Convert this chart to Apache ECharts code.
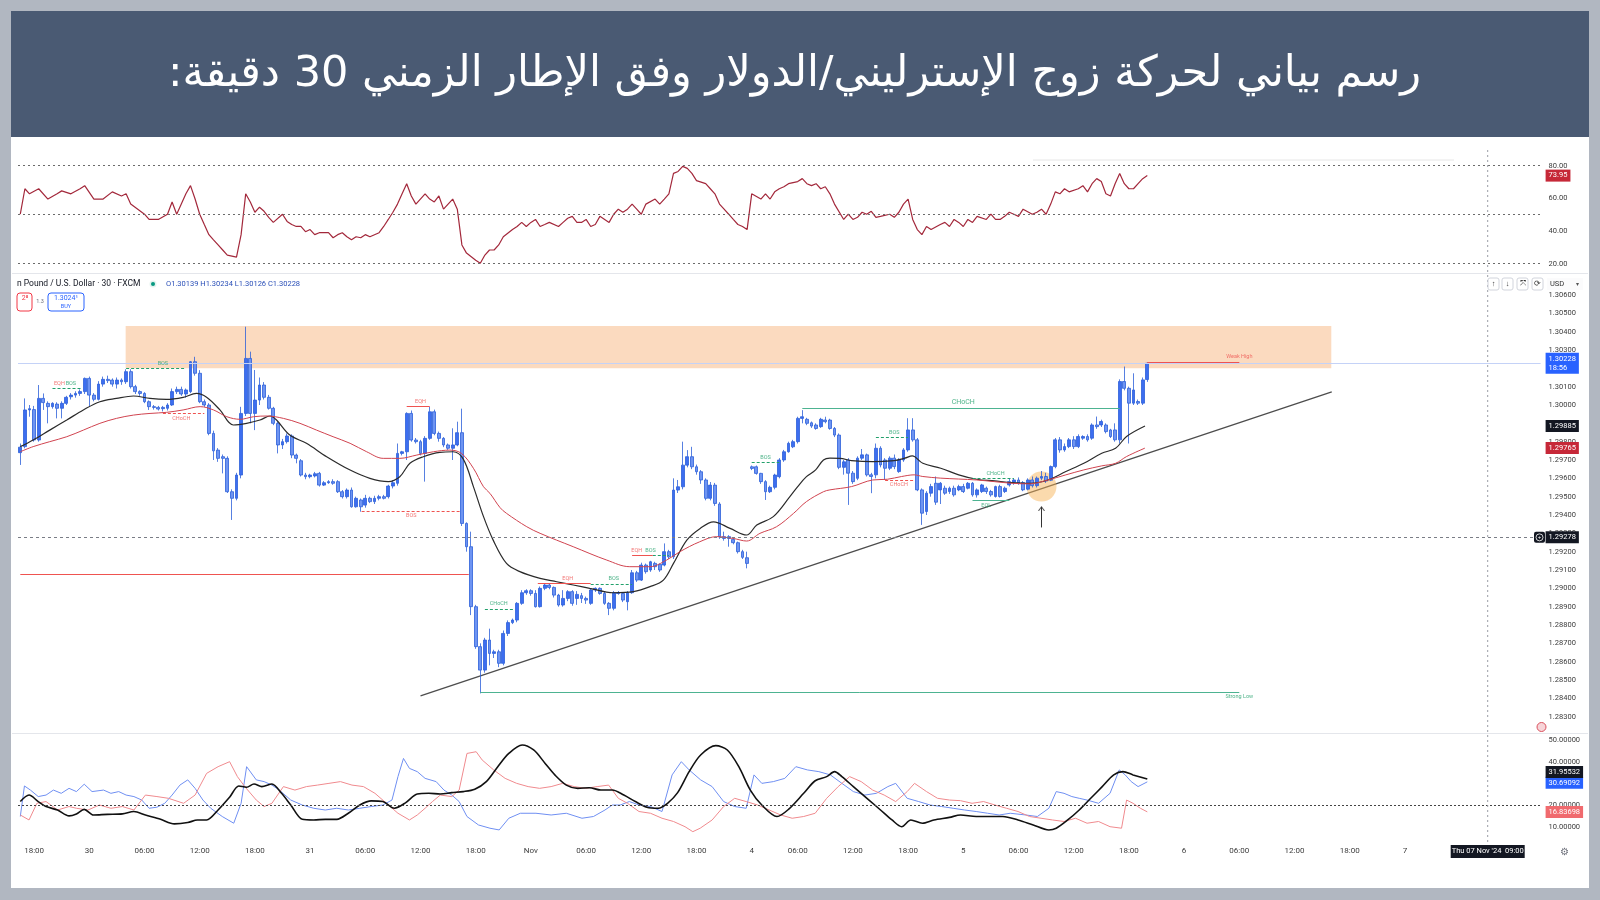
<!DOCTYPE html>
<html><head><meta charset="utf-8">
<script src="https://cdn.jsdelivr.net/npm/echarts@6/dist/echarts.min.js"></script>
<style>
html,body{margin:0;padding:0;background:#b1b7c1;width:1600px;height:900px;overflow:hidden;}
#banner{position:absolute;left:11px;top:11px;width:1578px;height:126px;background:#4a5a73;}
#panel{position:absolute;left:11px;top:137px;width:1578px;height:751px;background:#ffffff;}
#c{position:absolute;left:0;top:0;width:1600px;height:900px;}
</style></head>
<body><div id="banner"></div><div id="panel"></div><div id="c"></div>
<script>
// ---------- DATA ----------
const titleText = 'رسم بياني لحركة زوج الإسترليني/الدولار وفق الإطار الزمني 30 دقيقة:';
const symbolText = 'n Pound / U.S. Dollar · 30 · FXCM';
const ohlcText = 'O1.30139 H1.30234 L1.30126 C1.30228';
const timeTicks = [[3,'18:00'],[15,'30'],[27,'06:00'],[39,'12:00'],[51,'18:00'],[63,'31'],[75,'06:00'],[87,'12:00'],[99,'18:00'],[111,'Nov'],[123,'06:00'],[135,'12:00'],[147,'18:00'],[159,'4'],[169,'06:00'],[181,'12:00'],[193,'18:00'],[205,'5'],[217,'06:00'],[229,'12:00'],[241,'18:00'],[253,'6'],[265,'06:00'],[277,'12:00'],[289,'18:00'],[301,'7']];
const slotCount = 331;
// candles: [open, close, low, high]
const candles = [
[1.29740,1.29770,1.29673,1.29790],[1.29773,1.29973,1.29764,1.30036],[1.29973,1.29980,1.29936,1.30000],[1.29975,1.29809,1.29800,1.29995],[1.29809,1.30036,1.29800,1.30109],
[1.30036,1.30013,1.29973,1.30063],[1.30009,1.29991,1.29900,1.30020],[1.29991,1.30009,1.29980,1.30015],[1.30005,1.29982,1.29927,1.30015],[1.29982,1.30009,1.29927,1.30020],
[1.30009,1.30042,1.30000,1.30050],[1.30045,1.30054,1.30030,1.30065],[1.30054,1.30063,1.30040,1.30075],[1.30063,1.30073,1.30050,1.30085],[1.30073,1.30145,1.30060,1.30150],
[1.30145,1.30054,1.29991,1.30155],[1.30054,1.30031,1.30020,1.30065],[1.30031,1.30114,1.30025,1.30130],[1.30114,1.30140,1.30100,1.30155],[1.30140,1.30133,1.30120,1.30160],
[1.30136,1.30114,1.30100,1.30145],[1.30114,1.30136,1.30090,1.30150],[1.30136,1.30127,1.30110,1.30145],[1.30127,1.30182,1.30115,1.30195],[1.30182,1.30100,1.30090,1.30195],
[1.30100,1.30073,1.30060,1.30110],[1.30073,1.30063,1.30050,1.30080],[1.30063,1.30018,1.30010,1.30070],[1.30018,1.29991,1.29973,1.30025],[1.29991,1.29987,1.29975,1.30000],
[1.29987,1.29978,1.29970,1.29995],[1.29980,1.29987,1.29965,1.29995],[1.29982,1.30000,1.29970,1.30010],[1.30000,1.30073,1.29995,1.30090],[1.30073,1.30085,1.30060,1.30100],
[1.30085,1.30060,1.30050,1.30100],[1.30060,1.30082,1.30040,1.30090],[1.30073,1.30236,1.30065,1.30240],[1.30236,1.30173,1.30160,1.30263],[1.30173,1.30018,1.30010,1.30190],
[1.30018,1.30000,1.29990,1.30030],[1.30000,1.29845,1.29835,1.30010],[1.29845,1.29750,1.29700,1.29860],[1.29754,1.29709,1.29690,1.29765],[1.29718,1.29709,1.29627,1.29730],
[1.29709,1.29527,1.29520,1.29720],[1.29527,1.29491,1.29373,1.29540],[1.29491,1.29618,1.29480,1.29630],[1.29618,1.29954,1.29600,1.29990],[1.29954,1.30254,1.29940,1.30427],
[1.30254,1.29954,1.29900,1.30291],[1.29954,1.30027,1.29863,1.30191],[1.30027,1.30109,1.30000,1.30150],[1.30109,1.30042,1.30030,1.30125],[1.30042,1.29982,1.29975,1.30055],
[1.29982,1.29900,1.29890,1.29990],[1.29900,1.29782,1.29736,1.29910],[1.29782,1.29800,1.29760,1.29815],[1.29800,1.29831,1.29790,1.29845],[1.29831,1.29727,1.29710,1.29840],
[1.29727,1.29709,1.29682,1.29735],[1.29696,1.29618,1.29610,1.29705],[1.29618,1.29609,1.29595,1.29630],[1.29609,1.29618,1.29600,1.29625],[1.29613,1.29625,1.29605,1.29635],
[1.29627,1.29563,1.29555,1.29635],[1.29563,1.29576,1.29558,1.29585],[1.29576,1.29582,1.29570,1.29590],[1.29582,1.29573,1.29565,1.29595],[1.29582,1.29527,1.29520,1.29590],
[1.29527,1.29500,1.29490,1.29536],[1.29500,1.29536,1.29490,1.29545],[1.29536,1.29445,1.29440,1.29550],[1.29445,1.29491,1.29440,1.29500],[1.29482,1.29445,1.29418,1.29490],
[1.29454,1.29491,1.29440,1.29510],[1.29491,1.29473,1.29465,1.29500],[1.29473,1.29491,1.29460,1.29505],[1.29491,1.29500,1.29480,1.29510],[1.29500,1.29491,1.29485,1.29510],
[1.29500,1.29558,1.29490,1.29565],[1.29558,1.29576,1.29545,1.29590],[1.29573,1.29736,1.29560,1.29790],[1.29736,1.29745,1.29725,1.29750],[1.29745,1.29954,1.29700,1.29960],
[1.29954,1.29809,1.29800,1.29970],[1.29809,1.29800,1.29790,1.29820],[1.29800,1.29736,1.29725,1.29810],[1.29736,1.29818,1.29582,1.29830],[1.29818,1.29963,1.29810,1.29990],
[1.29963,1.29845,1.29835,1.29975],[1.29845,1.29818,1.29800,1.29855],[1.29818,1.29782,1.29770,1.29825],[1.29782,1.29764,1.29755,1.29790],[1.29764,1.29782,1.29700,1.29873],
[1.29782,1.29849,1.29775,1.29909],[1.29849,1.29354,1.29340,1.29980],[1.29354,1.29227,1.29200,1.29360],[1.29227,1.28900,1.28854,1.29309],[1.28900,1.28682,1.28670,1.28910],
[1.28682,1.28554,1.28427,1.28700],[1.28554,1.28718,1.28540,1.28730],[1.28718,1.28645,1.28580,1.28780],[1.28645,1.28654,1.28620,1.28665],[1.28654,1.28591,1.28570,1.28665],
[1.28591,1.28754,1.28580,1.28770],[1.28754,1.28813,1.28740,1.28825],[1.28813,1.28827,1.28805,1.28835],[1.28827,1.28918,1.28815,1.28925],[1.28918,1.28976,1.28910,1.28990],
[1.28976,1.28987,1.28965,1.28995],[1.28987,1.28972,1.28960,1.28995],[1.28972,1.28900,1.28895,1.28990],[1.28900,1.29000,1.28895,1.29010],[1.29000,1.29018,1.28990,1.29025],
[1.29018,1.29005,1.28995,1.29025],[1.29005,1.28963,1.28950,1.29010],[1.28963,1.28909,1.28900,1.28970],[1.28909,1.28945,1.28900,1.28990],[1.28945,1.28982,1.28930,1.28990],
[1.28982,1.28918,1.28905,1.28990],[1.28945,1.28967,1.28910,1.28985],[1.28960,1.28945,1.28920,1.28975],[1.28945,1.28936,1.28915,1.28955],[1.28918,1.28991,1.28910,1.29000],
[1.28991,1.29000,1.28980,1.29005],[1.29000,1.28972,1.28965,1.29005],[1.28972,1.28918,1.28910,1.28980],[1.28918,1.28891,1.28854,1.28925],[1.28891,1.28976,1.28880,1.28985],
[1.28976,1.28972,1.28965,1.28985],[1.28972,1.28936,1.28925,1.28980],[1.28927,1.28976,1.28880,1.28985],[1.28976,1.29085,1.28970,1.29100],[1.29085,1.29045,1.29035,1.29095],
[1.29045,1.29127,1.29040,1.29140],[1.29127,1.29091,1.29080,1.29135],[1.29100,1.29145,1.29090,1.29150],[1.29136,1.29118,1.29100,1.29145],[1.29131,1.29100,1.29090,1.29135],
[1.29127,1.29200,1.29120,1.29245],[1.29200,1.29172,1.29160,1.29210],[1.29172,1.29536,1.29160,1.29600],[1.29536,1.29554,1.29520,1.29591],[1.29554,1.29672,1.29540,1.29800],
[1.29672,1.29718,1.29660,1.29754],[1.29718,1.29663,1.29650,1.29772],[1.29663,1.29636,1.29620,1.29675],[1.29636,1.29591,1.29570,1.29645],[1.29591,1.29491,1.29480,1.29600],
[1.29491,1.29563,1.29480,1.29580],[1.29563,1.29463,1.29450,1.29575],[1.29460,1.29282,1.29270,1.29470],[1.29282,1.29272,1.29260,1.29309],[1.29272,1.29282,1.29227,1.29290],
[1.29267,1.29249,1.29240,1.29275],[1.29249,1.29200,1.29190,1.29255],[1.29200,1.29169,1.29160,1.29210],[1.29167,1.29136,1.29109,1.29200],[1.29663,1.29654,1.29645,1.29670],
[1.29663,1.29627,1.29620,1.29670],[1.29627,1.29582,1.29570,1.29630],[1.29582,1.29527,1.29482,1.29590],[1.29527,1.29551,1.29520,1.29560],[1.29551,1.29618,1.29540,1.29625],
[1.29609,1.29700,1.29600,1.29710],[1.29700,1.29745,1.29690,1.29755],[1.29745,1.29791,1.29740,1.29800],[1.29772,1.29800,1.29765,1.29810],[1.29800,1.29927,1.29790,1.29936],
[1.29927,1.29936,1.29900,1.29972],[1.29922,1.29900,1.29890,1.29930],[1.29903,1.29885,1.29875,1.29910],[1.29891,1.29872,1.29865,1.29900],[1.29882,1.29922,1.29875,1.29930],
[1.29918,1.29909,1.29900,1.29936],[1.29918,1.29872,1.29865,1.29925],[1.29872,1.29836,1.29825,1.29880],[1.29836,1.29660,1.29650,1.29845],[1.29660,1.29690,1.29620,1.29700],
[1.29700,1.29628,1.29455,1.29710],[1.29628,1.29582,1.29570,1.29640],[1.29600,1.29710,1.29590,1.29720],[1.29710,1.29728,1.29700,1.29760],[1.29728,1.29619,1.29610,1.29735],
[1.29619,1.29610,1.29519,1.29630],[1.29619,1.29764,1.29600,1.29790],[1.29764,1.29673,1.29660,1.29775],[1.29700,1.29655,1.29591,1.29710],[1.29655,1.29710,1.29645,1.29720],
[1.29710,1.29664,1.29650,1.29730],[1.29637,1.29700,1.29630,1.29710],[1.29700,1.29755,1.29690,1.29765],[1.29755,1.29864,1.29745,1.29928],[1.29864,1.29810,1.29800,1.29928],
[1.29810,1.29537,1.29530,1.29820],[1.29537,1.29410,1.29346,1.29545],[1.29419,1.29519,1.29400,1.29530],[1.29519,1.29555,1.29500,1.29570],[1.29573,1.29470,1.29455,1.29610],
[1.29537,1.29573,1.29460,1.29580],[1.29546,1.29519,1.29510,1.29560],[1.29528,1.29546,1.29515,1.29555],[1.29546,1.29510,1.29500,1.29560],[1.29537,1.29555,1.29530,1.29565],
[1.29555,1.29528,1.29520,1.29570],[1.29546,1.29573,1.29540,1.29580],[1.29573,1.29510,1.29500,1.29580],[1.29510,1.29537,1.29495,1.29545],[1.29528,1.29564,1.29520,1.29570],
[1.29546,1.29528,1.29515,1.29555],[1.29528,1.29510,1.29500,1.29537],[1.29501,1.29555,1.29495,1.29560],[1.29555,1.29501,1.29495,1.29565],[1.29528,1.29546,1.29520,1.29555],
[1.29564,1.29582,1.29555,1.29600],[1.29580,1.29591,1.29565,1.29600],[1.29591,1.29575,1.29565,1.29605],[1.29577,1.29537,1.29530,1.29585],[1.29541,1.29591,1.29535,1.29600],
[1.29591,1.29560,1.29550,1.29610],[1.29560,1.29601,1.29550,1.29610],[1.29601,1.29610,1.29590,1.29640],[1.29610,1.29585,1.29575,1.29630],[1.29590,1.29664,1.29585,1.29670],
[1.29664,1.29810,1.29655,1.29820],[1.29810,1.29755,1.29740,1.29825],[1.29755,1.29773,1.29745,1.29790],[1.29773,1.29810,1.29765,1.29820],[1.29810,1.29773,1.29760,1.29830],
[1.29773,1.29828,1.29765,1.29840],[1.29819,1.29828,1.29810,1.29835],[1.29828,1.29810,1.29800,1.29840],[1.29819,1.29891,1.29810,1.29900],[1.29891,1.29882,1.29870,1.29937],
[1.29891,1.29910,1.29880,1.29920],[1.29891,1.29855,1.29845,1.29900],[1.29864,1.29828,1.29820,1.29870],[1.29864,1.29810,1.29800,1.29900],[1.29810,1.30128,1.29790,1.30140],
[1.30128,1.30091,1.30080,1.30210],[1.30091,1.30010,1.29790,1.30100],[1.30010,1.30082,1.30000,1.30173],[1.30019,1.30010,1.30000,1.30030],[1.30010,1.30137,1.30000,1.30150],
[1.30139,1.30228,1.30126,1.30234]
];
// moving averages: [bar index, price]
const maFast = [[0,1.29773],[2.8,1.29809],[6.4,1.29863],[10.1,1.29918],[13.7,1.29973],[17.3,1.30018],[20.9,1.30036],[24.6,1.30049],[28.2,1.30036],[31.8,1.30031],[35.4,1.30042],[38.3,1.30063],[40.5,1.30042],[43.4,1.29973],[46.3,1.29891],[49.2,1.29900],[52.1,1.29918],[54.3,1.29940],[55.7,1.29918],[58.6,1.29836],[62.2,1.29791],[66.6,1.29718],[71.7,1.29645],[76,1.29600],[80,1.29582],[82.5,1.29609],[84.7,1.29682],[87.6,1.29718],[91.2,1.29742],[94.1,1.29745],[96.3,1.29705],[98.5,1.29555],[100.7,1.29391],[102.8,1.29263],[105.7,1.29136],[108.6,1.29091],[113,1.29054],[116.6,1.29036],[120.2,1.29018],[123.8,1.29000],[128.9,1.28976],[133.3,1.28982],[136.9,1.29009],[139.8,1.29045],[142,1.29136],[144.9,1.29263],[147.8,1.29327],[150.7,1.29363],[154.3,1.29327],[157.9,1.29291],[160.1,1.29345],[163.7,1.29391],[167.3,1.29500],[169,1.29555],[170.9,1.29609],[172.9,1.29646],[174.6,1.29700],[176,1.29710],[178.2,1.29709],[180.7,1.29697],[185.3,1.29691],[190,1.29697],[192.3,1.29710],[193.9,1.29722],[196.2,1.29682],[200.1,1.29655],[204,1.29619],[207.9,1.29595],[211.8,1.29586],[215.6,1.29577],[219.5,1.29573],[223.4,1.29591],[227.3,1.29637],[231.2,1.29682],[235.1,1.29737],[238.1,1.29764],[240.5,1.29828],[244.5,1.29885]];
const maSlow = [[0,1.29745],[2.8,1.29773],[6.4,1.29800],[10.1,1.29827],[13.7,1.29863],[17.3,1.29900],[20.9,1.29927],[24.6,1.29945],[28.2,1.29954],[31.8,1.29960],[35.4,1.29973],[39.1,1.29991],[42,1.29973],[44.9,1.29936],[47.8,1.29922],[50.7,1.29936],[53.6,1.29940],[57.2,1.29927],[60.8,1.29900],[64.4,1.29863],[68,1.29827],[71.7,1.29791],[75.3,1.29745],[78.9,1.29709],[82.5,1.29709],[86.2,1.29727],[89.8,1.29745],[93.4,1.29754],[95.9,1.29736],[98.5,1.29655],[100.7,1.29554],[102.1,1.29518],[104.3,1.29440],[105.7,1.29409],[110.1,1.29336],[113,1.29300],[120.2,1.29227],[127.5,1.29154],[132.5,1.29118],[136.9,1.29118],[140.5,1.29154],[143.4,1.29200],[147.7,1.29254],[151.4,1.29282],[155,1.29272],[157.9,1.29258],[160.8,1.29300],[164.4,1.29336],[168.1,1.29409],[170.9,1.29473],[174.6,1.29527],[176,1.29537],[180.7,1.29555],[185.3,1.29591],[188.5,1.29595],[191.6,1.29610],[194.3,1.29619],[196.2,1.29610],[200.1,1.29601],[207.9,1.29591],[215.6,1.29573],[219.5,1.29570],[223.4,1.29591],[227.3,1.29619],[231.2,1.29646],[235.1,1.29668],[238.1,1.29682],[240.5,1.29719],[244.5,1.29765]];
const trendPts = [[87,1.28413],[285.1,1.30072]];
const supplyZone = [22.9, 285, 1.30200, 1.30431];
const rsi = [[0,50.3],[1,65.9],[2,62.8],[4,65.9],[6,59.6],[8,62.8],[9,64.6],[11,62.8],[13,65.9],[14,67.8],[16,59.6],[18,59.6],[20,64.0],[22,61.5],[23,62.8],[24,56.5],[27,50.3],[28,47.1],[30,47.1],[32,50.3],[33,57.8],[34,50.3],[35,56.5],[36,62.8],[37,67.8],[38,59.6],[39,50.3],[40,44.0],[41,37.8],[42,34.6],[43,31.5],[44,28.4],[45,25.3],[47,24.0],[48,37.8],[49,62.8],[50,57.8],[51,51.5],[52,54.6],[53,52.1],[54,48.4],[55,45.3],[57,50.3],[58,45.9],[59,44.0],[60,42.8],[61,42.8],[62,39.6],[63,40.9],[64,37.8],[65,39.0],[67,39.0],[68,35.9],[69,37.8],[70,39.0],[71,36.5],[72,34.6],[73,36.5],[74,35.9],[75,37.8],[76,36.5],[78,39.0],[79,42.8],[80,47.1],[81,51.5],[82,56.5],[83,62.8],[84,69.0],[85,61.5],[86,56.5],[88,62.8],[89,59.6],[90,57.8],[91,61.5],[92,53.4],[94,59.6],[95,53.4],[96,31.5],[97,26.5],[99,22.1],[100,20.3],[101,25.3],[102,28.4],[103,28.4],[104,31.5],[105,36.5],[107,40.9],[108,42.8],[109,45.3],[110,42.8],[111,45.3],[112,47.1],[113,42.8],[114,44.0],[115,45.3],[117,42.8],[118,45.3],[119,47.8],[120,49.0],[121,45.3],[122,45.3],[123,47.1],[124,42.8],[125,44.0],[126,49.0],[128,45.3],[129,50.3],[130,53.4],[131,51.5],[132,53.4],[133,56.5],[134,53.4],[135,50.3],[136,56.5],[138,59.6],[139,56.5],[140,59.6],[141,62.8],[142,75.3],[143,76.5],[144,79.6],[145,78.4],[146,75.3],[147,70.9],[149,69.0],[150,65.9],[151,62.8],[152,56.5],[153,53.4],[154,50.3],[155,47.1],[156,44.0],[157,42.8],[158,40.9],[159,62.8],[161,59.6],[162,62.8],[163,59.6],[164,64.0],[165,65.9],[166,67.1],[167,69.0],[169,70.3],[170,72.1],[171,69.0],[172,67.8],[173,69.0],[174,65.9],[175,67.1],[176,62.8],[177,56.5],[179,47.1],[180,50.3],[181,47.1],[182,48.4],[183,51.5],[184,50.3],[185,52.1],[186,48.4],[187,49.0],[189,50.3],[190,48.4],[191,51.5],[192,56.5],[193,59.6],[194,47.1],[195,40.9],[196,37.8],[197,42.8],[198,40.9],[200,44.0],[201,45.3],[202,42.8],[203,47.1],[204,45.3],[205,42.8],[206,47.1],[207,45.3],[208,49.0],[210,47.1],[211,50.3],[212,47.1],[213,47.1],[214,49.0],[215,51.5],[216,50.3],[217,49.0],[218,53.4],[220,50.3],[221,51.5],[222,53.4],[223,50.3],[224,56.5],[225,64.0],[226,62.8],[227,65.9],[228,64.0],[230,65.9],[231,67.8],[232,64.0],[233,69.0],[234,72.1],[235,70.3],[236,62.8],[237,61.5],[238,69.0],[239,75.3],[240,69.0],[241,65.9],[242,65.9],[243,69.0],[244,72.1],[245,73.95]];
const adx = [[0,21.6],[1.9,24.6],[3.9,21.6],[5.6,19.3],[8.1,17.7],[10.6,15.0],[12.2,15.9],[13.9,18.0],[15.9,15.4],[18.9,15.7],[22.2,15.9],[24.7,17.0],[27.2,15.4],[30.5,13.4],[33.5,11.3],[36.4,11.9],[38.5,13.1],[40.5,13.1],[43.0,17.7],[45.5,23.6],[47.5,28.8],[49.2,28.2],[50.8,29.7],[52.5,28.5],[54.7,29.7],[56.8,25.4],[58.8,20.0],[61.3,13.4],[63.8,13.1],[66.3,13.4],[68.8,13.4],[71.3,16.2],[73.8,20.0],[76.3,21.9],[78.8,21.6],[81.3,18.5],[83.8,21.1],[86.3,25.1],[88.8,25.4],[91.3,25.1],[93.8,25.7],[96.3,26.2],[98.8,27.3],[101.3,30.8],[103.8,37.7],[106.2,43.8],[109.1,47.7],[111.6,45.4],[114.1,39.2],[116.2,33.9],[118.7,29.2],[121.2,27.7],[123.7,28.0],[126.2,26.9],[128.7,26.9],[131.2,24.6],[133.7,21.6],[136.2,19.0],[138.7,18.5],[140.7,20.8],[142.9,25.7],[145.4,35.4],[147.9,43.1],[151.2,47.4],[153.7,45.4],[156.2,37.7],[158.7,26.9],[161.2,20.0],[164.5,14.7],[167.0,18.0],[170.3,25.4],[172.8,31.2],[175.3,33.1],[177.0,35.4],[178.6,33.1],[181.1,28.5],[184.5,22.3],[187.0,17.7],[189.5,13.1],[191.6,10.0],[193.6,13.1],[196.1,11.6],[198.6,13.1],[202.0,14.3],[204.4,15.4],[207.8,14.7],[210.3,14.7],[213.6,14.7],[216.9,13.1],[220.2,10.8],[223.6,8.5],[225.2,9.3],[227.7,13.1],[230.2,17.7],[232.7,23.1],[235.2,28.5],[237.7,33.9],[239.7,35.4],[241.9,33.9],[245,31.96]];
const diPlus = [[0,14.7],[0.9,28.8],[2.2,26.9],[3.9,23.9],[5.6,24.6],[7.2,26.9],[8.9,25.4],[10.6,27.7],[12.2,26.2],[13.9,29.6],[15.6,26.2],[18.1,26.9],[19.7,25.4],[21.4,26.2],[23.0,24.6],[24.7,23.9],[26.4,22.3],[28.0,18.5],[29.7,19.0],[31.4,20.8],[33.0,24.6],[34.7,29.2],[36.4,31.6],[38.0,27.7],[39.7,22.3],[41.4,18.5],[43.9,14.7],[46.4,11.6],[48.0,20.8],[49.2,37.7],[51.3,31.6],[53.0,30.8],[54.7,29.2],[56.3,26.9],[58.8,22.3],[61.3,20.0],[63.8,18.5],[66.3,17.7],[68.8,18.5],[71.3,17.7],[73.8,18.5],[76.3,19.3],[78.8,20.0],[80.8,22.3],[82.1,33.1],[83.3,41.5],[84.6,36.9],[86.3,35.4],[88.0,32.3],[90.4,30.8],[92.1,26.9],[93.8,24.6],[95.4,21.6],[97.1,14.7],[99.6,10.8],[102.1,9.3],[104.1,8.5],[106.2,13.9],[108.7,16.2],[112.1,16.2],[115.4,15.4],[118.7,16.2],[122.1,13.9],[124.6,14.7],[127.1,17.7],[128.7,20.0],[130.4,20.0],[132.4,21.6],[134.5,20.0],[137.0,19.3],[139.5,17.0],[141.7,33.9],[143.7,40.0],[145.4,36.2],[147.9,31.6],[150.4,28.5],[152.9,21.6],[155.3,19.3],[157.8,18.5],[159.5,33.9],[161.2,30.0],[163.7,30.8],[166.2,32.3],[168.6,37.7],[171.1,36.2],[173.6,35.4],[176.1,33.9],[178.6,30.0],[181.1,26.2],[183.6,24.6],[186.1,25.4],[188.6,28.5],[190.3,30.0],[192.8,23.1],[195.3,21.6],[197.8,20.0],[200.3,19.3],[202.8,18.5],[205.3,17.7],[207.8,17.0],[210.3,16.2],[212.8,15.4],[215.2,16.2],[218.6,15.4],[221.1,14.7],[223.6,18.5],[225.2,26.2],[226.9,25.4],[228.6,23.9],[230.2,23.1],[231.9,22.3],[234.4,20.8],[236.9,25.4],[238.9,36.2],[240.2,33.9],[241.5,30.8],[243.0,28.5],[245,30.69]];
const diMinus = [[0,15.4],[1.9,13.1],[3.6,20.8],[5.6,21.6],[8.1,17.7],[10.6,19.3],[12.2,18.5],[14.7,17.7],[17.2,20.0],[19.7,18.5],[22.2,19.3],[24.7,17.7],[27.2,24.6],[29.7,23.9],[32.2,23.1],[35.5,20.8],[38.0,24.6],[40.5,34.6],[43.0,37.7],[45.5,40.0],[47.2,33.1],[48.8,28.5],[51.3,22.3],[53.0,19.3],[54.7,20.8],[57.2,28.5],[59.7,26.9],[62.2,28.5],[64.6,29.2],[67.1,30.0],[69.6,30.8],[72.1,29.2],[74.6,28.5],[77.1,25.4],[79.6,20.8],[82.1,16.2],[84.6,13.1],[86.3,15.4],[88.0,18.5],[89.6,21.6],[91.3,24.6],[93.8,23.9],[95.4,26.9],[97.1,43.8],[99.1,44.6],[100.4,40.8],[102.9,36.2],[105.4,32.3],[107.9,30.0],[110.4,28.5],[112.9,27.7],[115.4,28.5],[117.9,30.0],[120.4,28.5],[122.9,27.7],[125.4,28.5],[127.9,29.2],[130.0,23.1],[132.0,20.8],[134.5,17.0],[137.0,16.2],[139.5,13.9],[142.0,12.4],[144.5,10.0],[146.2,7.7],[147.8,9.3],[150.4,13.1],[152.9,19.3],[155.3,23.1],[157.8,21.6],[160.3,20.0],[162.8,17.7],[165.3,15.4],[167.8,13.9],[170.3,14.7],[172.8,16.2],[175.3,23.1],[177.8,28.5],[180.3,33.1],[182.8,30.8],[185.3,26.9],[187.8,24.6],[190.3,21.6],[192.8,26.2],[194.4,30.0],[197.0,26.2],[199.4,23.1],[202.0,22.3],[204.4,22.0],[206.9,20.8],[209.4,21.6],[211.9,20.0],[214.4,18.5],[216.9,17.0],[219.4,14.7],[221.9,13.9],[224.4,13.1],[226.9,12.4],[229.4,13.9],[231.9,11.6],[234.4,12.4],[236.9,10.0],[239.4,9.3],[240.5,22.3],[241.9,20.8],[243.5,18.5],[245,16.84]];
// structure levels: [fromIndex, toIndex, price]
const greenDashedLevels = [[7,13.4,1.30091],[23,36,1.30200],[101,107.5,1.28887],[124,133,1.29023],[137.5,141,1.29180],[159,165,1.29687],[186,193,1.29824],[207,216,1.29600]];
const redDashedLevels = [[31,40,1.29954],[74.2,95.6,1.29422],[188,194.3,1.29591]];
const redSolidLevels = [[84,89,1.29991],[112.5,124,1.29027],[133,137.5,1.29180],[0,97.5,1.29075],[245,265,1.30234]];
const greenSolidLevels = [[170,239,1.29985],[100,265,1.28434],[207,215,1.29479]];
// structure labels: [index, price, text]
const greenLabelsAbove = [[11,1.30091,'BOS'],[31,1.30200,'BOS'],[104,1.28887,'CHoCH'],[129,1.29023,'BOS'],[137,1.29180,'BOS'],[162,1.29687,'BOS'],[190,1.29824,'BOS'],[212,1.29600,'CHoCH']];
const greenLabelsBelow = [[265,1.28434,'Strong Low'],[210,1.29479,'EQL']];
const redLabelsAbove = [[8.5,1.30091,'EQH'],[87,1.29991,'EQH'],[119,1.29027,'EQH'],[134,1.29180,'EQH'],[265,1.30234,'Weak High']];
const redLabelsBelow = [[35,1.29954,'CHoCH'],[85,1.29422,'BOS'],[191,1.29591,'CHoCH']];
const chochMain = [[205,1.29985,'CHoCH']];
const touchPoint = [[222,1.29555]];
const arrowPts = [[222,1.29332],[222,1.29444]];
const lastPrice = 1.30228, barTimer = '18:56';
const fastLast = 1.29885, slowLast = 1.29765, crossPrice = 1.29278, crossIndex = 319;
const rsiLast = 73.95, adxLast = 31.95532, plusLast = 30.69092, minusLast = 16.83698;
const rsiLevels = [80, 50, 20];
const dmiLevel = 20;
const crossTime = "Thu 07 Nov '24  09:00";

// ---------- CHART ----------
const chart = echarts.init(document.getElementById('c'), null, {renderer:'canvas'});
const GL = 18, GW = 1522.6;
const FONT = 'Roboto, "Liberation Sans", sans-serif';
const tickMap = {}; timeTicks.forEach(([i,t]) => tickMap[i] = t);
const cats = Array.from({length: slotCount}, (_, i) => String(i));
const seg = (arr, style) => arr.map(([a,b,p]) => [{coord:[a,p], lineStyle:style}, {coord:[b,p]}]);
const tag = (bg, txt, extra) => Object.assign({show:true, position:'end', distance:5, formatter:txt, color:'#fff',
  backgroundColor:bg, padding:[2,3,1,3], fontSize:7.5, fontFamily:FONT, lineHeight:9}, extra||{});
const hidden = {color:'rgba(0,0,0,0)', width:0};
const lblSeries = (data, color, pos, size) => ({type:'scatter', xAxisIndex:2, yAxisIndex:1, symbolSize:0, silent:true, z:6,
  data: data.map(d => ({value:[d[0], d[1]], name:d[2]})),
  label:{show:true, position:pos, distance:2, formatter:p => p.name, color:color, fontSize:size||5.5, fontFamily:FONT}});

const option = {
  animation:false,
  backgroundColor:'transparent',
  textStyle:{fontFamily:FONT},
  title:{text:'\u200F' + titleText + '\u200F', left:163, top:48,
    textStyle:{color:'#ffffff', fontSize:43, fontWeight:'normal', fontFamily:'"DejaVu Sans", "Noto Sans", sans-serif'}},
  grid:[
    {left:GL, width:GW, top:149.4, height:124.1},
    {left:GL, width:GW, top:295, height:440},
    {left:GL, width:GW, top:740, height:99.7}
  ],
  xAxis:[
    {type:'value', gridIndex:0, min:-0.5, max:slotCount-0.5, show:false},
    {type:'category', gridIndex:1, data:cats, show:false, position:'bottom'},
    {type:'value', gridIndex:1, min:-0.5, max:slotCount-0.5, show:false, position:'top'},
    {type:'category', gridIndex:2, data:cats, position:'bottom', axisLine:{show:false}, axisTick:{show:false}, splitLine:{show:false},
      axisLabel:{interval:(i) => tickMap[i] !== undefined, formatter:(v,i) => tickMap[i] || '', fontSize:8, color:'#3c3c3c', margin:7}},
    {type:'value', gridIndex:2, min:-0.5, max:slotCount-0.5, show:false, position:'top'}
  ],
  yAxis:[
    {type:'value', gridIndex:0, min:14, max:90, position:'right', splitLine:{show:false}, axisLine:{show:false}, axisTick:{show:false},
      axisLabel:{customValues:[20,40,60,80], formatter:v => v.toFixed(2), fontSize:7.5, color:'#3c3c3c', margin:8}},
    {type:'value', gridIndex:1, min:1.282, max:1.306, interval:0.001, position:'right', splitLine:{show:false}, axisLine:{show:false}, axisTick:{show:false},
      axisLabel:{formatter:v => v.toFixed(5), fontSize:7.5, color:'#3c3c3c', margin:8, showMinLabel:false}},
    {type:'value', gridIndex:2, min:4, max:50, position:'right', splitLine:{show:false}, axisLine:{show:false}, axisTick:{show:false},
      axisLabel:{customValues:[10,20,40,50], formatter:v => v.toFixed(5), fontSize:7.5, color:'#3c3c3c', margin:8}}
  ],
  series:[
    // RSI
    {type:'line', name:'RSI', xAxisIndex:0, yAxisIndex:0, data:rsi, symbol:'none', lineStyle:{color:'#a3283b', width:1.2}, z:3,
      markLine:{silent:true, symbol:'none', precision:5, data:[
        ...rsiLevels.map(v => ({yAxis:v, lineStyle:{color:'#6b6b6b', type:[2,3], width:1}, label:{show:false}})),
        {yAxis:rsiLast, lineStyle:hidden, label:tag('#c62838', rsiLast.toFixed(2))}
      ]}},
    // trendline + zone + structure lines
    {type:'line', name:'trend', xAxisIndex:2, yAxisIndex:1, data:trendPts, symbol:'none', lineStyle:{color:'#4d4d4d', width:1.3}, z:1,
      markArea:{silent:true, itemStyle:{color:'#fbd8bc', opacity:0.95},
        data:[[{coord:[supplyZone[0], supplyZone[2]]}, {coord:[supplyZone[1], supplyZone[3]]}]]},
      markLine:{silent:true, symbol:'none', precision:5, label:{show:false}, data:[
        ...seg(greenDashedLevels, {color:'#22a06b', type:[3,2], width:1}),
        ...seg(redDashedLevels, {color:'#ef5350', type:[3,2], width:1}),
        ...seg(redSolidLevels, {color:'#ef5350', type:'solid', width:1}),
        ...seg(greenSolidLevels, {color:'#4db391', type:'solid', width:1})
      ]}},
    // candles
    {type:'candlestick', name:'GBPUSD', xAxisIndex:1, yAxisIndex:1, data:candles, barWidth:3.2, z:3,
      itemStyle:{color:'#3d6ef0', color0:'#6e94f2', borderColor:'#2c5fd9', borderColor0:'#2c5fd9', borderWidth:0.8},
      markLine:{silent:true, symbol:'none', precision:5, data:[
        {yAxis:lastPrice, lineStyle:{color:'#c4d2f7', type:'solid', width:1}, label:tag('#2962ff', lastPrice.toFixed(5) + '\n' + barTimer)},
        {yAxis:crossPrice, lineStyle:{color:'#7a7d86', type:[3,3], width:1}, label:tag('#131722', crossPrice.toFixed(5))}
      ]}},
    // MAs
    {type:'line', name:'EMA fast', xAxisIndex:2, yAxisIndex:1, data:maFast, symbol:'none', smooth:0.35, lineStyle:{color:'#2b2b2b', width:1.2}, z:4,
      markLine:{silent:true, symbol:'none', precision:5, data:[{yAxis:fastLast, lineStyle:hidden, label:tag('#131722', fastLast.toFixed(5))}]}},
    {type:'line', name:'EMA slow', xAxisIndex:2, yAxisIndex:1, data:maSlow, symbol:'none', smooth:0.35, lineStyle:{color:'#d0434f', width:1}, z:4,
      markLine:{silent:true, symbol:'none', precision:5, data:[{yAxis:slowLast, lineStyle:hidden, label:tag('#c62838', slowLast.toFixed(5))}]}},
    // touch point + arrow
    {type:'scatter', name:'touch', xAxisIndex:2, yAxisIndex:1, data:touchPoint, symbolSize:30, silent:true, z:2,
      itemStyle:{color:'rgba(246,178,84,0.6)'}},
    {type:'line', name:'arrow', xAxisIndex:2, yAxisIndex:1, data:arrowPts, symbol:'none', showSymbol:false, lineStyle:{color:'#333', width:1}, z:5},
    {type:'scatter', name:'arrowHead', xAxisIndex:2, yAxisIndex:1, data:[arrowPts[1]], silent:true, z:5,
      symbol:'path://M0 10 L5 0 L10 10', symbolSize:[6,4], symbolOffset:[0,2],
      itemStyle:{color:'rgba(0,0,0,0)', borderColor:'#333', borderWidth:1}},
    lblSeries(greenLabelsAbove, '#22a06b', 'top'),
    lblSeries(greenLabelsBelow, '#22a06b', 'bottom'),
    lblSeries(redLabelsAbove, '#ef5350', 'top'),
    lblSeries(redLabelsBelow, '#ef5350', 'bottom'),
    lblSeries(chochMain, '#22a06b', 'top', 7),
    // DMI
    {type:'line', name:'+DI', xAxisIndex:4, yAxisIndex:2, data:diPlus, symbol:'none', lineStyle:{color:'#6f8ff2', width:1}, z:3,
      markLine:{silent:true, symbol:'none', precision:5, data:[{yAxis:plusLast, lineStyle:hidden, label:tag('#2962ff', plusLast.toFixed(5), {offset:[0,1]})}]}},
    {type:'line', name:'-DI', xAxisIndex:4, yAxisIndex:2, data:diMinus, symbol:'none', lineStyle:{color:'#f08a8e', width:1}, z:3,
      markLine:{silent:true, symbol:'none', precision:5, data:[{yAxis:minusLast, lineStyle:hidden, label:tag('#f06a6e', minusLast.toFixed(5))}]}},
    {type:'line', name:'ADX', xAxisIndex:4, yAxisIndex:2, data:adx, symbol:'none', smooth:0.3, lineStyle:{color:'#111', width:1.6}, z:4,
      markLine:{silent:true, symbol:'none', precision:5, data:[
        {yAxis:dmiLevel, lineStyle:{color:'#444', type:[2,2], width:1}, label:{show:false}},
        {yAxis:adxLast, lineStyle:hidden, label:tag('#131722', adxLast.toFixed(5), {offset:[0,-7]})}
      ]}}
  ]
};
chart.setOption(option);

// overlay graphics positioned through the chart's scales
const cx = chart.convertToPixel({xAxisIndex:2}, crossIndex);
const cy = chart.convertToPixel({yAxisIndex:1}, crossPrice);
const g = [
  {type:'line', shape:{x1:12, y1:273.5, x2:1588, y2:273.5}, style:{stroke:'#e4e6eb', lineWidth:1}, z:1},
  {type:'line', shape:{x1:12, y1:733.5, x2:1588, y2:733.5}, style:{stroke:'#e4e6eb', lineWidth:1}, z:1},
  {type:'line', shape:{x1:1033, y1:160, x2:1454, y2:160}, style:{stroke:'#e6e6e6', lineWidth:1}, z:1},
  {type:'line', shape:{x1:cx, y1:150, x2:cx, y2:842}, style:{stroke:'#9a9da6', lineWidth:1, lineDash:[2,3]}, z:50},
  {type:'rect', shape:{x:cx-37, y:845, width:74, height:13}, style:{fill:'#131722'}, z:60},
  {type:'text', x:cx, y:851.5, style:{text:crossTime, fill:'#fff', fontSize:7.5, fontFamily:FONT, align:'center', verticalAlign:'middle'}, z:61},
  {type:'text', x:1564, y:852, style:{text:'⚙', fill:'#6a6d78', fontSize:10, align:'center', verticalAlign:'middle'}, z:61},
  // crosshair icon
  {type:'rect', shape:{x:1534, y:cy-5.5, width:11, height:11, r:2}, style:{fill:'#131722'}, z:60},
  {type:'circle', shape:{cx:1539.5, cy:cy, r:3.5}, style:{fill:'none', stroke:'#fff', lineWidth:0.8}, z:61},
  {type:'text', x:1539.5, y:cy, style:{text:'+', fill:'#fff', fontSize:6, align:'center', verticalAlign:'middle'}, z:62},
  // header
  {type:'text', x:17, y:284, style:{text:symbolText, fill:'#131722', fontSize:8.5, fontFamily:FONT, verticalAlign:'middle'}, z:60},
  {type:'circle', shape:{cx:153, cy:284, r:3.5}, style:{fill:'#e3f3ee'}, z:60},
  {type:'circle', shape:{cx:153, cy:284, r:2}, style:{fill:'#089981'}, z:61},
  {type:'text', x:166, y:284, style:{text:ohlcText, fill:'#2a4fb8', fontSize:7.5, fontFamily:FONT, verticalAlign:'middle'}, z:60},
  {type:'rect', shape:{x:17, y:293, width:15, height:18, r:3}, style:{fill:'#fff', stroke:'#f23645', lineWidth:1}, z:60},
  {type:'text', x:25, y:298.5, style:{text:'2⁸', fill:'#f23645', fontSize:7, fontFamily:FONT, align:'center', verticalAlign:'middle'}, z:61},
  {type:'text', x:40, y:302, style:{text:'1.3', fill:'#6a6d78', fontSize:5.5, fontFamily:FONT, align:'center', verticalAlign:'middle'}, z:61},
  {type:'rect', shape:{x:48, y:293, width:36, height:18, r:3}, style:{fill:'#fff', stroke:'#2962ff', lineWidth:1}, z:60},
  {type:'text', x:66, y:298, style:{text:'1.3024¹', fill:'#2962ff', fontSize:7, fontFamily:FONT, align:'center', verticalAlign:'middle'}, z:61},
  {type:'text', x:66, y:306.5, style:{text:'BUY', fill:'#2962ff', fontSize:5.5, fontFamily:FONT, align:'center', verticalAlign:'middle'}, z:61},
  // right-top buttons
  ...[['↑',1488],['↓',1502],['⤧',1517],['⟳',1532]].flatMap(([t,x]) => [
    {type:'rect', shape:{x:x, y:278, width:11, height:12, r:2}, style:{fill:'#fff', stroke:'#d1d4dc', lineWidth:1}, z:60},
    {type:'text', x:x+5.5, y:284, style:{text:t, fill:'#333', fontSize:7.5, align:'center', verticalAlign:'middle'}, z:61}
  ]),
  {type:'rect', shape:{x:1547, y:278, width:36, height:12}, style:{fill:'#fbfbfc'}, z:60},
  {type:'text', x:1550, y:284, style:{text:'USD', fill:'#333', fontSize:7.5, fontFamily:FONT, verticalAlign:'middle'}, z:61},
  {type:'text', x:1577, y:284, style:{text:'▾', fill:'#555', fontSize:6, align:'center', verticalAlign:'middle'}, z:61},
  {type:'circle', shape:{cx:1541.5, cy:727, r:4.5}, style:{fill:'#f7d4d8', stroke:'#d9505c', lineWidth:1}, z:60}
];
chart.setOption({graphic:{elements:g}});
</script></body></html>
